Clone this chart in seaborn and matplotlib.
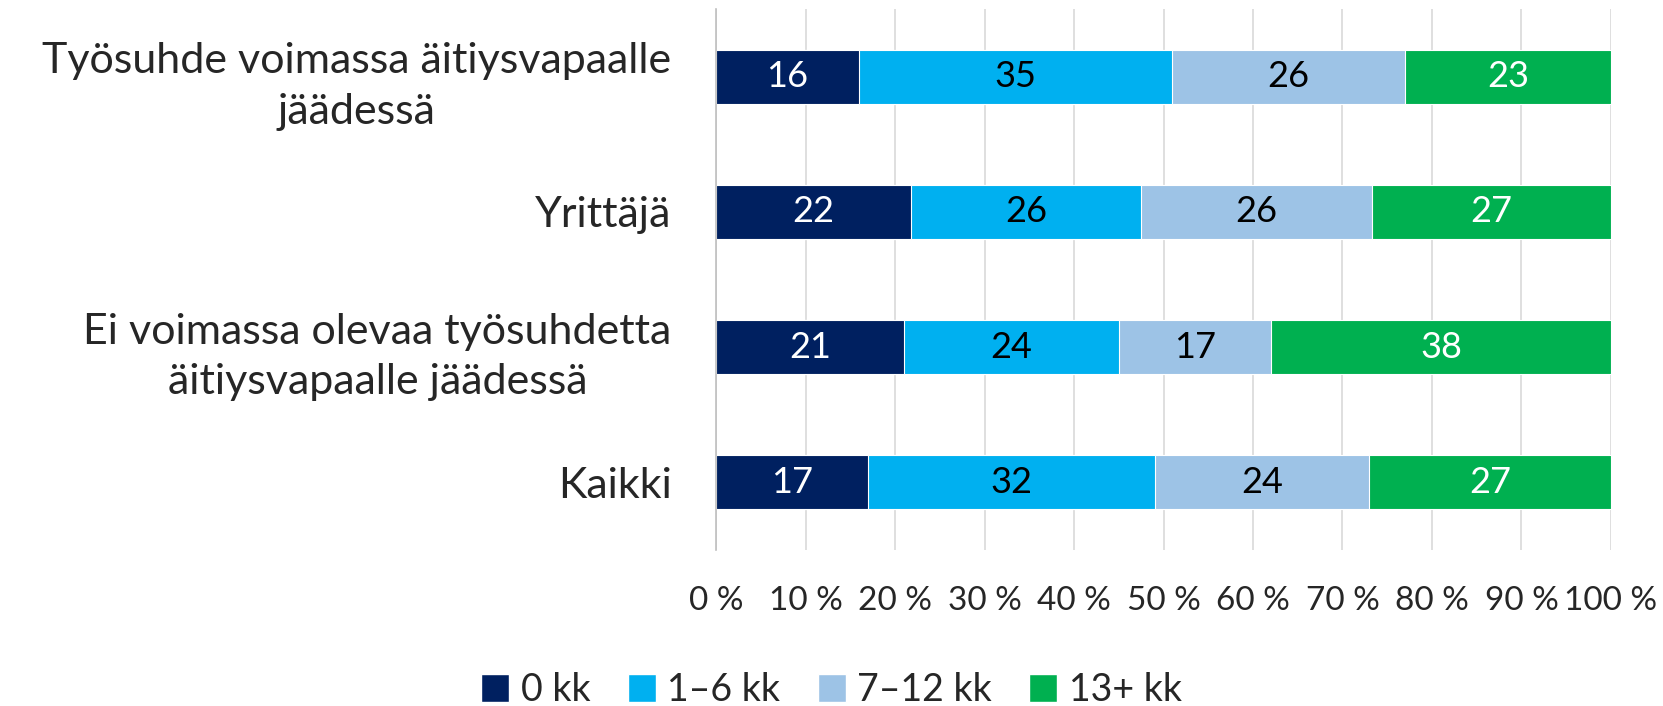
import numpy as np
import pandas as pd
import matplotlib.pyplot as plt
import seaborn as sns
from matplotlib.patches import Patch

# data
categories = ['Työsuhde voimassa äitiysvapaalle\njäädessä',
              'Yrittäjä',
              'Ei voimassa olevaa työsuhdetta\näitiysvapaalle jäädessä',
              'Kaikki']
series = ['0 kk', '1–6 kk', '7–12 kk', '13+ kk']
v_0 = [16, 22, 21, 17]
v_1_6 = [35, 26, 24, 32]
v_7_12 = [26, 26, 17, 24]
v_13 = [23, 27, 38, 27]
colors = ['#002060', '#00B0F0', '#9DC3E6', '#00B050']
text_colors = ['white', 'black', 'black', 'white']

sns.set_theme(style='white')
plt.rcParams['font.family'] = ['Lato', 'DejaVu Sans']

vals = np.array([v_0, v_1_6, v_7_12, v_13], dtype=float)
pct = vals / vals.sum(axis=0) * 100  # 100 % stacked
cum = pct.cumsum(axis=0)

fig = plt.figure(figsize=(16.63, 7.06), dpi=100)
ax = fig.add_axes([716 / 1663, 1 - 550 / 706, (1611 - 716) / 1663, (550 - 9) / 706])

# draw cumulative bars, widest first so each segment shows
for i in range(len(series) - 1, -1, -1):
    df = pd.DataFrame({'cat': categories, 'x': cum[i]})
    sns.barplot(data=df, x='x', y='cat', orient='h', color=colors[i],
                saturation=1, width=0.4, ax=ax, edgecolor='white', linewidth=0.8)

# value labels
for i in range(len(series)):
    start = cum[i] - pct[i]
    for j in range(len(categories)):
        ax.text(start[j] + pct[i][j] / 2, j, f'{int(vals[i][j])}',
                ha='center', va='center', fontsize=26, color=text_colors[i])

ax.set_xlim(0, 100)
ax.set_ylim(3.5, -0.5)
ax.set_xticks(range(0, 101, 10))
ax.set_xticklabels([f'{t} %' for t in range(0, 101, 10)], fontsize=24)
ax.tick_params(axis='x', pad=26, length=0)
ax.tick_params(axis='y', pad=32, length=0, labelsize=31)
for lab in ax.get_yticklabels():
    lab.set_multialignment('center')
    lab.set_linespacing(1.4)
ax.set_xlabel('')
ax.set_ylabel('')
ax.xaxis.grid(True, color='#d9d9d9', linewidth=1.2)
ax.set_axisbelow(True)
for s in ['top', 'right', 'bottom']:
    ax.spines[s].set_visible(False)
ax.spines['left'].set_color('#bfbfbf')
ax.spines['left'].set_linewidth(1.2)

handles = [Patch(facecolor=c, label=s) for c, s in zip(colors, series)]
fig.legend(handles=handles, loc='center', bbox_to_anchor=(0.5, 1 - 690 / 706),
           ncol=4, frameon=False, fontsize=27, handlelength=0.75, handleheight=0.75,
           handletextpad=0.3, columnspacing=1.0)

fig.savefig('out.png', dpi=100)
